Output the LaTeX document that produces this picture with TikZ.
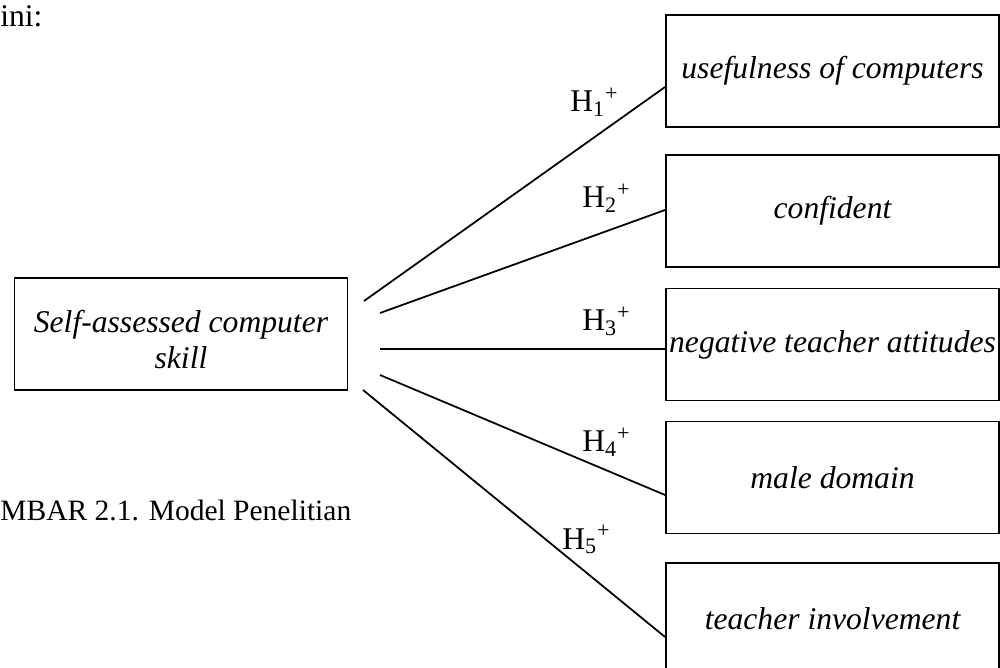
\documentclass[tikz,border=0pt]{standalone}
\usepackage{fontspec}
\setmainfont{Liberation Serif}
\usetikzlibrary{positioning}

\begin{document}
\begin{tikzpicture}[
    x=0.02cm, y=-0.02cm,
    every node/.style={font=\fontsize{18}{20.5}\selectfont},
    varbox/.style={draw, line width=1.1pt, minimum width=6.66cm, minimum height=2.24cm,
        inner sep=0pt, align=center, font=\fontsize{18}{20.5}\selectfont\itshape},
    hyp/.style={anchor=base west, inner sep=0pt},
    link/.style={line width=1pt}
]
\useasboundingbox (0,0) rectangle (1000,668);

\node[anchor=base west, inner sep=0pt] (intro) at (0,27) {ini:};
\node[anchor=base west, inner sep=0pt, font=\fontsize{16.8}{20}\selectfont] (caption) at (0,520) {MBAR 2.1. Model Penelitian};

\node[varbox] (skill) at (181,334) {Self-assessed computer\rule{0pt}{0.66cm}\\skill};

\node[varbox] (useful) at (832.5,71) {usefulness of computers};
\node[varbox] (confident) at (832.5,211) {confident};
\node[varbox] (negative) at (832.5,344.5) {negative teacher attitudes};
\node[varbox] (male) at (832.5,477.5) {male domain};
\node[varbox] (involve) at (832.5,619) {teacher involvement};

\coordinate (s1) at (364,301);
\coordinate (s2) at (380,313);
\coordinate (s3) at (380,349);
\coordinate (s4) at (380,375);
\coordinate (s5) at (363,390);

\foreach \s/\b/\d in {s1/useful/-0.32, s2/confident/0.02, s3/negative/-0.09,
                      s4/male/-0.35, s5/involve/-0.36}{
    \draw[link] (\s) -- ([yshift=\d cm]\b.west);
}

\node[hyp] (h1) at (570,112) {H\textsubscript{1}\textsuperscript{+}};
\node[hyp] (h2) at (582,208) {H\textsubscript{2}\textsuperscript{+}};
\node[hyp] (h3) at (582,331) {H\textsubscript{3}\textsuperscript{+}};
\node[hyp] (h4) at (582,452) {H\textsubscript{4}\textsuperscript{+}};
\node[hyp] (h5) at (562,549) {H\textsubscript{5}\textsuperscript{+}};

\end{tikzpicture}
\end{document}
